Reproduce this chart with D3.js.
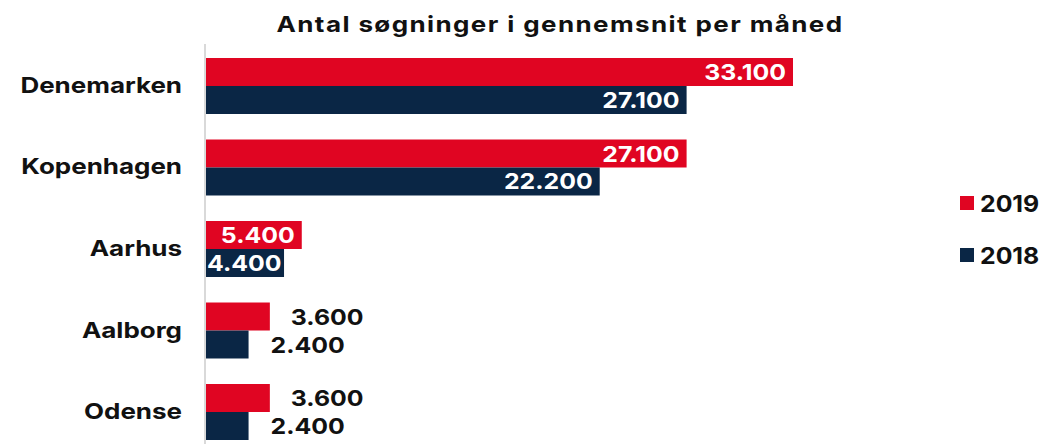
<!DOCTYPE html>
<html>
<head>
<meta charset="utf-8">
<script src="https://cdn.jsdelivr.net/npm/d3@7"></script>
<style>
  body { margin: 0; background: #fff; }
  svg { font-family: "Inter", "Open Sans", sans-serif; }
</style>
</head>
<body>
<svg id="chart" width="1043" height="444"></svg>
<script>
// data
const cities = ["Denemarken", "Kopenhagen", "Aarhus", "Aalborg", "Odense"];
const years = ["2019", "2018"];
const values2019 = [33100, 27100, 5400, 3600, 3600];
const values2018 = [27100, 22200, 4400, 2400, 2400];
const colors = ["#e00522", "#0a2645"];

const rows = cities.map((c, i) => ({ city: c, vals: [values2019[i], values2018[i]] }));

const svg = d3.select("#chart");
const left = 206;

// x schaal, 33.100 eindigt rond x=793
const x = d3.scaleLinear().domain([0, 33100]).range([left, 793]);

const y = d3.scaleBand().domain(cities).range([58, 440]).paddingInner(0.313).paddingOuter(0);
const yInner = d3.scaleBand().domain(years).range([0, y.bandwidth()]);

const fmt = v => d3.format(",")(v).replace(/,/g, ".");

// tekst die breder getekend wordt (het origineel gebruikt een breed lettertype)
function wideText(sel, xx, yy, stretch) {
  return sel.append("text")
    .attr("transform", `translate(${xx},${yy}) scale(${stretch},1)`);
}

// titel
wideText(svg, 560, 32, 1.18)
  .attr("text-anchor", "middle")
  .attr("font-size", 22).attr("font-weight", 700)
  .attr("letter-spacing", 1.2)
  .attr("fill", "#111")
  .text("Antal søgninger i gennemsnit per måned");

// verticale as
svg.append("line")
  .attr("x1", left - 1).attr("x2", left - 1)
  .attr("y1", 44).attr("y2", 444)
  .attr("stroke", "#d9d9d9").attr("stroke-width", 2);

const groups = svg.selectAll("g.city")
  .data(rows)
  .join("g")
  .attr("class", "city")
  .attr("transform", d => `translate(0,${y(d.city)})`);

const valStretch = 1.13;

groups.each(function (d, i) {
  const g = d3.select(this);
  wideText(g, 182, y.bandwidth() / 2 + 7, 1.18)
    .attr("text-anchor", "end")
    .attr("font-size", 22).attr("font-weight", 700)
    .attr("fill", "#111")
    .text(d.city);

  d.vals.forEach((v, j) => {
    const yy = yInner(years[j]);
    const w = x(v) - x(0);
    g.append("rect")
      .attr("x", x(0)).attr("y", yy)
      .attr("width", w).attr("height", yInner.bandwidth())
      .attr("fill", colors[j]);

    const ty = yy + yInner.bandwidth() / 2 + 8;
    if (w > 70) {
      // label in de balk, afgesneden aan het eind van de balk
      const clipId = `clip-${i}-${j}`;
      g.append("clipPath").attr("id", clipId)
        .append("rect")
        .attr("x", x(0)).attr("y", yy)
        .attr("width", w).attr("height", yInner.bandwidth());
      const holder = g.append("g").attr("clip-path", `url(#${clipId})`);
      const t = wideText(holder, x(v) - 7, ty, valStretch)
        .attr("text-anchor", "end")
        .attr("font-size", 22).attr("font-weight", 700)
        .attr("fill", "#fff")
        .text(fmt(v));
      const tw = t.node().getComputedTextLength() * valStretch;
      if (tw > w - 8) {
        t.attr("text-anchor", "start")
          .attr("transform", `translate(${x(0) + 1},${ty}) scale(${valStretch},1)`);
      }
    } else {
      wideText(g, x(v) + (j === 0 ? 21 : 22), ty, valStretch)
        .attr("text-anchor", "start")
        .attr("font-size", 22).attr("font-weight", 700)
        .attr("fill", "#111")
        .text(fmt(v));
    }
  });
});

// legende
const legend = svg.selectAll("g.legend")
  .data(years)
  .join("g")
  .attr("class", "legend")
  .attr("transform", (d, i) => `translate(960,${196 + i * 52})`);

legend.append("rect")
  .attr("width", 14).attr("height", 14)
  .attr("fill", (d, i) => colors[i]);

legend.each(function (d) {
  wideText(d3.select(this), 20, 16, 1.08)
    .attr("font-size", 23).attr("font-weight", 700)
    .attr("fill", "#111")
    .text(d);
});
</script>
</body>
</html>
